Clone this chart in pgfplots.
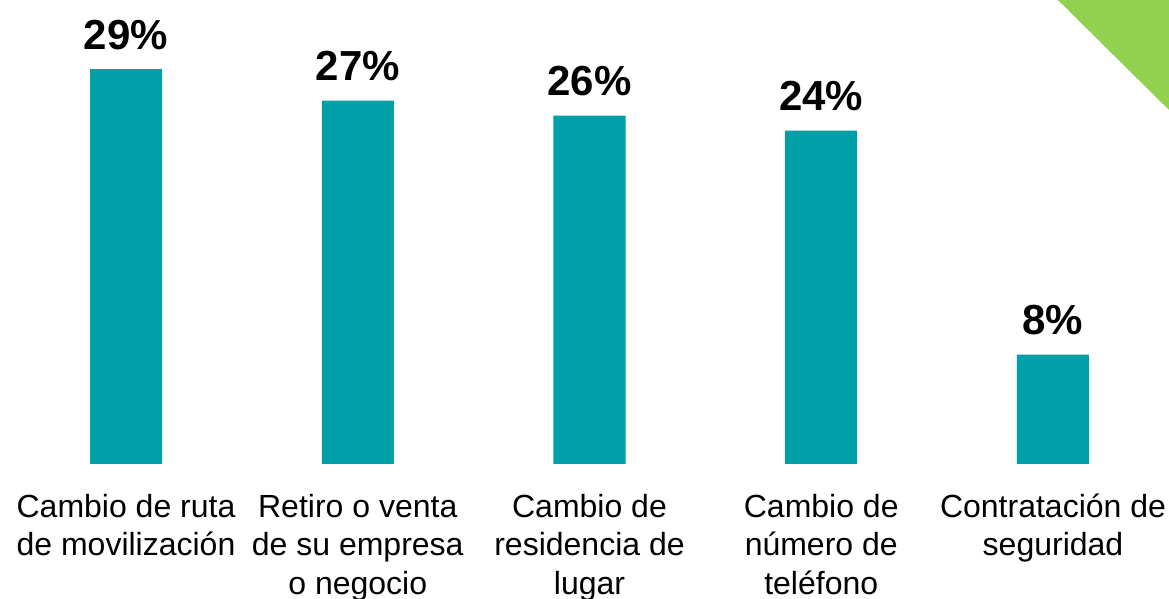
\documentclass[border=0pt]{standalone}
\usepackage{pgfplots}
\pgfplotsset{compat=1.18}
\usepackage{fontspec}
\setmainfont{Liberation Sans}
\definecolor{barteal}{RGB}{0,160,168}
\definecolor{cornergreen}{RGB}{146,208,80}
\begin{document}
\begin{tikzpicture}
\begin{axis}[
  at={(0,0)}, anchor=south west,
  width=584.5pt, height=232pt, scale only axis,
  xmin=-0.5437, xmax=4.5006,
  ymin=0, ymax=33.97,
  axis line style={draw=none},
  major tick length=0pt,
  clip=false,
  xtick={0,1,2,3,4},
  xticklabels={{\rule{0pt}{14pt}Cambio de ruta\\de movilización},{\rule{0pt}{14pt}Retiro o venta\\de su empresa\\o negocio},{\rule{0pt}{14pt}Cambio de\\residencia de\\lugar},{\rule{0pt}{14pt}Cambio de\\número de\\teléfono},{\rule{0pt}{14pt}Contratación de\\seguridad}},
  xticklabel style={anchor=north, align=center, inner sep=0pt, yshift=-12.5pt, font=\fontsize{16}{19.25}\selectfont},
  ytick=\empty,
  ybar, bar width=36pt,
  point meta=explicit symbolic,
  nodes near coords,
  nodes near coords style={font=\fontsize{21}{25}\selectfont\bfseries, anchor=base, yshift=10pt, inner sep=0pt, text=black},
]
\addplot[fill=barteal, draw=none] coordinates {
  (0,28.9) [29\%]
  (1,26.6) [27\%]
  (2,25.5) [26\%]
  (3,24.4) [24\%]
  (4,8.0) [8\%]
};
\fill[cornergreen] (rel axis cs:0.905,1) -- (rel axis cs:1,1) -- (rel axis cs:1,0.763) -- cycle;
\end{axis}
\pgfresetboundingbox
\path (0,-67.5pt) rectangle (584.5pt,232pt);
\end{tikzpicture}
\end{document}
